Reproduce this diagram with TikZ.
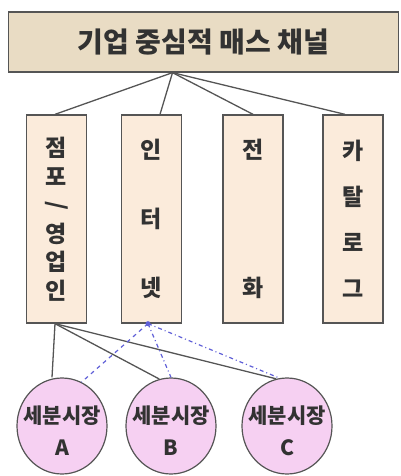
\documentclass[tikz,border=0pt]{standalone}
\usepackage{fontspec}
\setmainfont{Noto Sans CJK KR}
\usetikzlibrary{shapes.geometric}
\definecolor{topfill}{RGB}{233,220,196}
\definecolor{colfill}{RGB}{251,235,219}
\definecolor{segfill}{RGB}{246,208,242}
\definecolor{edge}{RGB}{85,85,85}
\definecolor{txt}{RGB}{50,50,50}
\definecolor{bluel}{RGB}{95,95,215}
\tikzset{
  topbox/.style={draw=edge, line width=1.3pt, fill=topfill, minimum width=390pt, minimum height=60pt, inner sep=0pt, text=txt, font=\fontsize{28}{28}\selectfont\bfseries},
  colbox/.style={draw=edge, line width=1.3pt, fill=colfill, minimum width=60pt, minimum height=208pt, inner sep=0pt, align=center, text=txt},
  seg/.style={draw=edge, line width=1.2pt, fill=segfill, ellipse, minimum width=90pt, minimum height=96pt, inner sep=0pt},
  segtext/.style={align=center, text=txt, font=\fontsize{21}{32}\selectfont\bfseries},
  conn/.style={draw=edge, line width=1.3pt},
  bconn/.style={draw=bluel, line width=1.2pt},
}
\begin{document}
\begin{tikzpicture}[x=1pt,y=-1pt]
\useasboundingbox (0,0) rectangle (400,476);
\node[topbox] (top) at (203.5,42) {기업 중심적 매스 채널};
\node[colbox, font=\fontsize{23}{28.5}\selectfont\bfseries] (c1) at (56.5,219) {점\\포\\\strut\\영\\업\\인};
\node[rotate=-90, inner sep=0pt, text=txt, font=\fontsize{23}{23}\selectfont\bfseries] (slash) at (56.5,206) {/};
\node[colbox, font=\fontsize{23}{69}\selectfont\bfseries] (c2) at (151.5,219) {인\\터\\넷};
\node[colbox, font=\fontsize{23}{138}\selectfont\bfseries] (c3) at (253,219) {전\\화};
\node[colbox, font=\fontsize{23}{46}\selectfont\bfseries] (c4) at (353,219) {카\\탈\\로\\그};
\draw[conn] ([xshift=-31pt]top.south) -- ([xshift=-1.5pt]c1.north);
\draw[conn] ([xshift=-31pt]top.south) -- ([xshift=8.5pt]c2.north);
\draw[conn] ([xshift=-31pt]top.south) -- (c3.north);
\draw[conn] ([xshift=-31pt]top.south) -- ([xshift=-8pt]c4.north);
\node[seg, label={[segtext, yshift=-5pt]center:세분시장\\A}] (A) at (62,426) {};
\node[seg, label={[segtext, yshift=-5pt]center:세분시장\\B}] (B) at (171,426) {};
\node[seg, label={[segtext, yshift=-5pt]center:세분시장\\C}] (C) at (287,426) {};
\draw[conn] ([xshift=-1.5pt]c1.south) -- (A.north -| 52,0);
\draw[conn] ([xshift=-1.5pt]c1.south) -- (B.104);
\draw[conn] ([xshift=-1.5pt]c1.south) -- (C.103);
\draw[bconn, dash pattern=on 4pt off 4pt] ([xshift=-3.5pt]c2.south) -- (A.66);
\draw[bconn, dash pattern=on 4pt off 3pt on 1pt off 3pt] ([xshift=-3.5pt]c2.south) -- (B.north);
\draw[bconn, dash pattern=on 4pt off 3pt on 1pt off 3pt] ([xshift=-3.5pt]c2.south) -- (C.99);
\fill[bluel] ([xshift=-3.5pt]c2.south) circle (2.5pt);
\end{tikzpicture}
\end{document}
